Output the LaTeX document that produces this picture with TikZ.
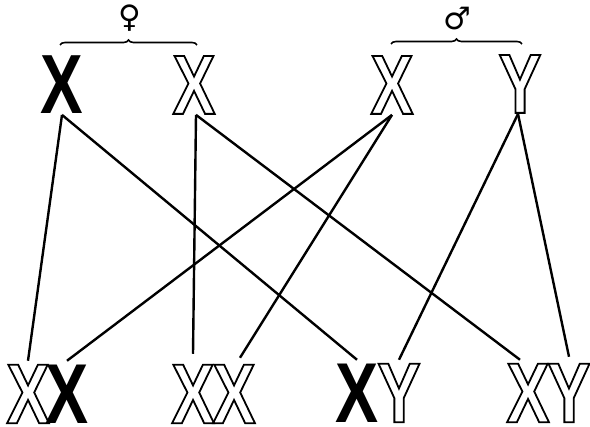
\documentclass[tikz,border=0pt]{standalone}
\usepackage{fontspec}
\setmainfont{Liberation Sans}
\newfontfamily\chromfont[FakeStretch=0.76]{Liberation Sans}
\newfontfamily\symfont{DejaVu Sans}
\usetikzlibrary{decorations.pathreplacing}
\newcommand\outl[1]{\special{pdf:literal 1 Tr 1.8 w}#1\special{pdf:literal 0 Tr}}
\tikzset{
  chrom/.style={inner sep=0pt, outer xsep=0pt, font=\chromfont\bfseries\fontsize{84}{84}\selectfont},
  topc/.style={chrom, outer ysep=1pt},
  botc/.style={chrom, outer ysep=4pt, font=\chromfont\bfseries\fontsize{85}{85}\selectfont},
  link/.style={line width=2.4pt},
  sexbrace/.style={decorate, decoration={brace, amplitude=5pt}, line width=1.6pt},
  sexsym/.style={inner sep=0pt, font=\symfont\bfseries\fontsize{31}{31}\selectfont}
}
\begin{document}
\begin{tikzpicture}[x=1pt, y=-1pt]
\useasboundingbox (0,0) rectangle (590,427);
% top row
\node[topc] (fX) at (62,85) {X};
\node[topc] (fx) at (194,85) {\outl{X}};
\node[topc] (mX) at (392,85) {\outl{X}};
\node[topc] (mY) at (520,84) {\outl{Y}};
% braces and symbols
\draw[sexbrace] (60,45) -- (197,45);
\draw[sexbrace] (391,44) -- (522,44);
\node[sexsym] (fem) at (130,18) {♀};
\node[sexsym] (mal) at (457,19) {♂};
% bottom row
\node[botc] (b1a) at (28,394) {\outl{X}};
\node[botc] (b1b) at (67,394) {X};
\node[botc] (b2a) at (193,394) {\outl{X}};
\node[botc] (b2b) at (234,394) {\outl{X}};
\node[botc] (b3a) at (357,393) {X};
\node[botc] (b3b) at (399,393) {\outl{Y}};
\node[botc] (b4a) at (528,393) {\outl{X}};
\node[botc] (b4b) at (569,393) {\outl{Y}};
% connectors
\draw[link] (fX.south) -- (b1a.north);
\draw[link] (fX.south) -- (b3a.north);
\draw[link] ([xshift=2pt]fx.south) -- ([yshift=7pt]b2a.north);
\draw[link] ([xshift=2pt]fx.south) -- ([xshift=-8pt]b4a.north);
\draw[link] (mX.south) -- (b1b.north);
\draw[link] (mX.south) -- ([xshift=6pt,yshift=3pt]b2b.north);
\draw[link] ([xshift=-2pt]mY.south) -- (b3b.north);
\draw[link] ([xshift=-2pt]mY.south) -- ([yshift=3pt]b4b.north);
\end{tikzpicture}
\end{document}
